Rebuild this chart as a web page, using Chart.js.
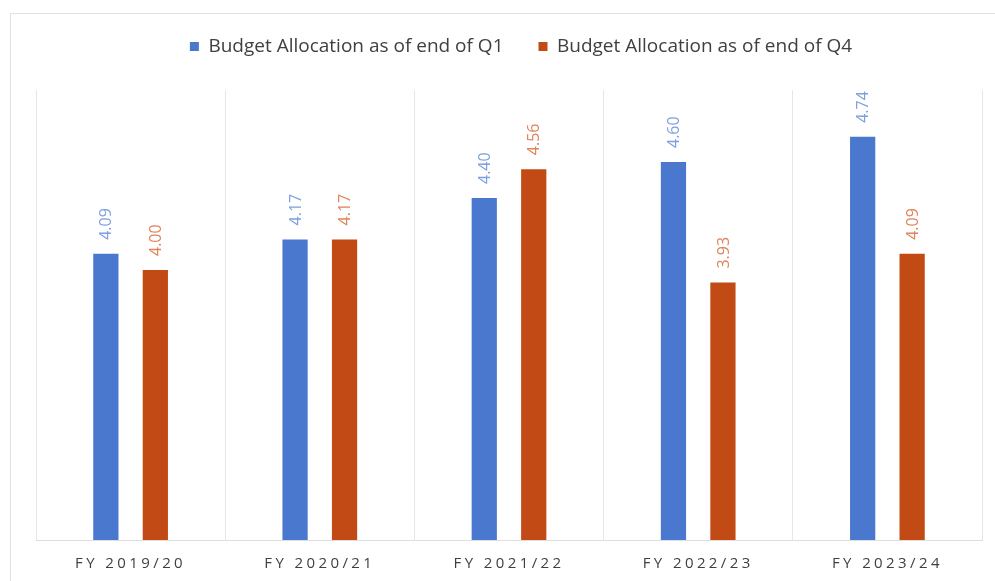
<!DOCTYPE html>
<html>
<head>
<meta charset="utf-8">
<script src="https://cdn.jsdelivr.net/npm/chart.js@4.4.1/dist/chart.umd.min.js"></script>
<style>
    html, body { margin: 0; padding: 0; background: #fff; }
    body { width: 995px; height: 581px; position: relative; overflow: hidden; }
    .frame {
        position: absolute; left: 10px; top: 13px; width: 1000px; height: 600px;
        border: 1px solid #e2e2e2; box-sizing: border-box;
    }
    .chart-box { position: absolute; left: 0; top: 0; width: 995px; height: 581px; }
</style>
</head>
<body>
<div class="frame"></div>
<div class="chart-box"><canvas id="budgetChart"></canvas></div>
<script>
// Data
const fiscalYears = ['FY 2019/20', 'FY 2020/21', 'FY 2021/22', 'FY 2022/23', 'FY 2023/24'];
const q1Allocation = [4.09, 4.17, 4.40, 4.60, 4.74];
const q4Allocation = [4.00, 4.17, 4.56, 3.93, 4.09];
const seriesNames = ['Budget Allocation as of end of Q1', 'Budget Allocation as of end of Q4'];

const barColors = ['#4a78cf', '#c24a14'];
const labelColors = ['#7ea0e0', '#e0845c'];

/**
 * Gives the legend some extra room below it and nudges it to the right
 */
const legendSpacer = {
    id: 'legendSpacer',
    beforeLayout(chart) {
        const legend = chart.legend;
        if (!legend || legend._spaced) return;
        const fit = legend.fit;
        legend.fit = function() {
            fit.call(this);
            this.height += 24;
        };
        legend._spaced = true;
    },
    afterLayout(chart) {
        const legend = chart.legend;
        if (!legend) return;
        legend.left += 12;
        legend.right += 12;
    }
};

/**
 * Writes rotated value labels above each bar
 */
const valueLabels = {
    id: 'valueLabels',
    afterDatasetsDraw(chart) {
        const ctx = chart.ctx;
        chart.data.datasets.forEach((ds, i) => {
            const meta = chart.getDatasetMeta(i);
            meta.data.forEach((bar, j) => {
                ctx.save();
                ctx.translate(bar.x, bar.y - 14);
                ctx.rotate(-Math.PI / 2);
                ctx.font = '16px "Open Sans", sans-serif';
                ctx.fillStyle = labelColors[i];
                ctx.textAlign = 'left';
                ctx.textBaseline = 'middle';
                ctx.fillText(ds.data[j].toFixed(2), 0, 1);
                ctx.restore();
            });
        });
        // spaced-out letters for the category labels drawn next
        ctx.letterSpacing = '3.4px';
    },
    afterDraw(chart) {
        chart.ctx.letterSpacing = '0px';
    }
};

function initializeBudgetChart() {
    const ctx = document.getElementById('budgetChart').getContext('2d');

    window.budgetChart = new Chart(ctx, {
        type: 'bar',
        data: {
            labels: fiscalYears,
            datasets: [
                {
                    label: seriesNames[0],
                    data: q1Allocation,
                    backgroundColor: barColors[0],
                    categoryPercentage: 0.523,
                    barPercentage: 0.51
                },
                {
                    label: seriesNames[1],
                    data: q4Allocation,
                    backgroundColor: barColors[1],
                    categoryPercentage: 0.523,
                    barPercentage: 0.51
                }
            ]
        },
        options: {
            responsive: false,
            animation: false,
            layout: {
                padding: { left: 36, right: 13, top: 2, bottom: -7 }
            },
            plugins: {
                legend: {
                    position: 'top',
                    labels: {
                        boxWidth: 9,
                        boxHeight: 9,
                        padding: 35,
                        color: '#404040',
                        font: { family: '"Open Sans", sans-serif', size: 19 }
                    }
                },
                tooltip: { enabled: false }
            },
            scales: {
                x: {
                    grid: {
                        display: true,
                        offset: true,
                        drawTicks: false,
                        color: '#e6e6e6',
                        lineWidth: 1
                    },
                    border: { display: true, color: '#dedede' },
                    ticks: {
                        z: 1,
                        padding: 15,
                        color: '#404040',
                        font: { family: '"Open Sans", sans-serif', size: 15 }
                    }
                },
                y: {
                    display: false,
                    min: 2.5,
                    max: 5.0
                }
            }
        },
        plugins: [legendSpacer, valueLabels]
    });
}

document.addEventListener('DOMContentLoaded', function() {
    const canvas = document.getElementById('budgetChart');
    canvas.width = 995;
    canvas.height = 581;
    initializeBudgetChart();
});
</script>
</body>
</html>
